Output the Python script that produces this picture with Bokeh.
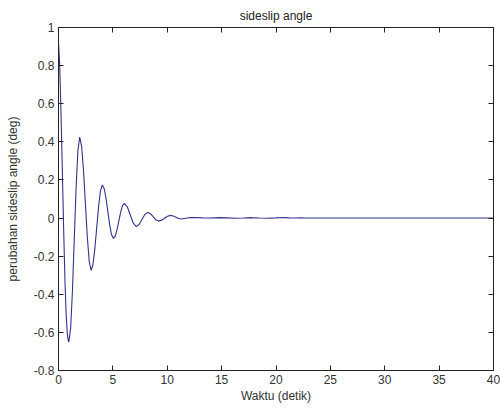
from bokeh.plotting import figure
from bokeh.models import LinearAxis, Range1d, FixedTicker, ColumnDataSource
from bokeh.embed import file_html
from bokeh.resources import INLINE

# Data (time in s, sideslip change in deg)
waktu = [0.0, 0.1, 0.2, 0.3, 0.4, 0.5, 0.6, 0.7, 0.8, 0.9, 0.95,
         1.117, 1.283, 1.45, 1.617, 1.783, 1.95,
         2.125, 2.30, 2.475, 2.65, 2.825, 3.0,
         3.17, 3.34, 3.515, 3.69, 3.86, 4.03,
         4.2, 4.37, 4.54, 4.71, 4.88, 5.05,
         5.217, 5.383, 5.55, 5.717, 5.883, 6.05,
         6.325, 6.6, 6.875, 7.15,
         7.41, 7.675, 7.94, 8.2,
         8.45, 8.7, 8.95, 9.2,
         9.475, 9.75, 10.025, 10.3,
         10.55, 10.8, 11.05, 11.3,
         12.0, 12.5, 13.2, 14.0, 14.8, 15.5, 16.3, 17.0, 17.8, 18.5,
         19.2, 20.0, 20.6, 21.2, 21.8, 22.4, 22.6, 30.0, 40.0]
sideslip = [0.92, 0.82, 0.62, 0.38, 0.13, -0.12, -0.34, -0.50, -0.60, -0.645, -0.65,
            -0.578, -0.381, -0.1125, 0.156, 0.353, 0.425,
            0.378, 0.250, 0.0755, -0.099, -0.227, -0.274,
            -0.244, -0.162, -0.05, 0.062, 0.144, 0.174,
            0.155, 0.104, 0.034, -0.037, -0.088, -0.107,
            -0.095, -0.061, -0.015, 0.031, 0.065, 0.077,
            0.059, 0.016, -0.027, -0.045,
            -0.034, -0.0075, 0.019, 0.03,
            0.023, 0.007, -0.009, -0.016,
            -0.0116, -0.001, 0.0096, 0.014,
            0.011, 0.0045, -0.0022, -0.005,
            0.002, 0.003, 0.001, 0.0, 0.002, 0.001, -0.001, 0.0, 0.002, 0.0,
            -0.001, 0.001, 0.003, 0.001, 0.0, 0.002, 0.0, 0.0, 0.0]

x_ticks = [0, 5, 10, 15, 20, 25, 30, 35, 40]
y_ticks = [-0.8, -0.6, -0.4, -0.2, 0, 0.2, 0.4, 0.6, 0.8, 1]
y_labels = {-0.8: "-0.8", -0.6: "-0.6", -0.4: "-0.4", -0.2: "-0.2", 0: "0",
            0.2: "0.2", 0.4: "0.4", 0.6: "0.6", 0.8: "0.8", 1: "1"}

FONT = "Liberation Sans"
TXT = "#333333"
FS = "12px"

p = figure(width=500, height=411, output_backend="svg", toolbar_location=None,
           x_range=Range1d(0, 40), y_range=Range1d(-0.8, 1.0),
           frame_width=435, frame_height=343,
           min_border_left=58, min_border_right=7, min_border_top=27,
           min_border_bottom=41, title="sideslip angle")

p.background_fill_color = "white"
p.border_fill_color = "white"
p.outline_line_color = "#222222"
p.outline_line_width = 1
p.grid.visible = False

p.title.align = "center"
p.title.text_font = FONT
p.title.text_font_size = FS
p.title.text_font_style = "normal"
p.title.text_color = "#222222"
p.title.standoff = 10

src = ColumnDataSource(dict(t=waktu, y=sideslip))
p.line("t", "y", source=src, line_color="#33338a", line_width=1.1)

def style_axis(ax, ticks, show_labels):
    ax.ticker = FixedTicker(ticks=ticks)
    ax.major_tick_in = 5
    ax.major_tick_out = 0
    ax.minor_tick_line_color = None
    ax.axis_line_color = "#222222"
    ax.major_tick_line_color = "#222222"
    ax.major_label_text_font = FONT
    if show_labels:
        ax.major_label_text_color = TXT
        ax.major_label_text_font_size = FS
        ax.major_label_standoff = 4
    else:
        ax.major_label_text_color = None
        ax.major_label_text_font_size = "1px"
        ax.major_label_standoff = 0

xa = p.xaxis[0]
style_axis(xa, x_ticks, True)
xa.axis_label = "Waktu (detik)"
xa.axis_label_text_font = FONT
xa.axis_label_text_font_size = FS
xa.axis_label_text_font_style = "normal"
xa.axis_label_text_color = TXT
xa.axis_label_standoff = 2

ya = p.yaxis[0]
style_axis(ya, y_ticks, True)
ya.major_label_overrides = y_labels
ya.axis_label = "perubahan sideslip angle (deg)"
ya.axis_label_text_font = FONT
ya.axis_label_text_font_size = FS
ya.axis_label_text_font_style = "normal"
ya.axis_label_text_color = TXT
ya.axis_label_standoff = 11

ra = LinearAxis()
style_axis(ra, y_ticks, False)
p.add_layout(ra, "right")
ta = LinearAxis()
style_axis(ta, x_ticks, False)
p.add_layout(ta, "above")

open("out.html", "w").write(file_html(p, INLINE))
